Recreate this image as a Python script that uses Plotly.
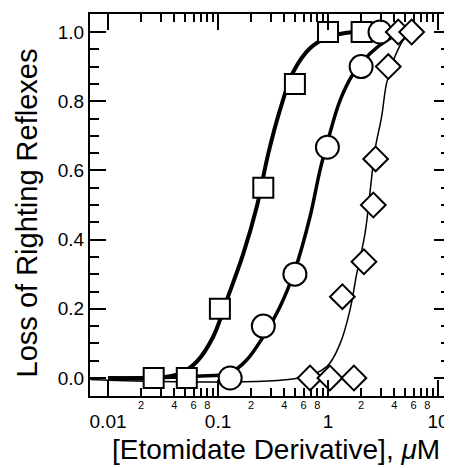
import plotly.graph_objects as go

# measured points
sq_x = [0.026, 0.052, 0.104, 0.258, 0.50, 1.0, 2.02]
sq_y = [0.0, 0.0, 0.20, 0.55, 0.85, 1.0, 1.0]

ci_x = [0.129, 0.258, 0.50, 0.987, 2.0, 2.97]
ci_y = [0.0, 0.15, 0.30, 0.667, 0.90, 1.0]

di_x = [0.686, 1.04, 1.72, 1.35, 2.12, 2.58, 2.71, 3.53, 4.35, 5.76]
di_y = [0.0, 0.0, 0.0, 0.235, 0.336, 0.50, 0.633, 0.90, 1.0, 1.0]

# fitted curves
sq_fit_x = [0.01, 0.026, 0.045, 0.064, 0.0906, 0.12, 0.17, 0.225, 0.287, 0.366, 0.484, 0.686, 1.0, 1.48, 2.0]
sq_fit_y = [0.0, 0.0, 0.013, 0.047, 0.12, 0.225, 0.36, 0.495, 0.65, 0.775, 0.885, 0.953, 0.985, 0.998, 1.0]

ci_fit_x = [0.01, 0.064, 0.129, 0.182, 0.258, 0.366, 0.50, 0.686, 0.846, 1.0, 1.29, 1.70, 2.41, 3.66, 4.5]
ci_fit_y = [0.0, 0.005, 0.015, 0.052, 0.12, 0.206, 0.312, 0.466, 0.601, 0.688, 0.803, 0.88, 0.938, 0.982, 0.995]

di_fit_x = [0.0069, 0.54, 0.973, 1.29, 1.585, 1.82, 2.17, 2.44, 2.67, 3.07, 3.41, 4.06, 4.84, 5.76]
di_fit_y = [-0.004, 0.0, 0.033, 0.10, 0.197, 0.30, 0.418, 0.553, 0.659, 0.755, 0.852, 0.929, 0.977, 1.0]

major_x = [0.01, 0.1, 1, 10]
major_txt = ["0.01", "0.1", "1", "10"]
minor_x = [m * d for d in [0.01, 0.1, 1] for m in range(2, 10)]
minor_lbl_x = [m * d for d in [0.01, 0.1, 1] for m in [2, 4, 6, 8]]
minor_lbl_txt = [str(m) for d in [0.01, 0.1, 1] for m in [2, 4, 6, 8]]

y_vals = [0, 0.2, 0.4, 0.6, 0.8, 1.0]
y_txt = ["0.0", "0.2", "0.4", "0.6", "0.8", "1.0"]

font = "Liberation Sans, Arial, Helvetica, sans-serif"
xr = [-2.164, 1.109]

fig = go.Figure()
fig.add_trace(go.Scatter(x=di_fit_x, y=di_fit_y, mode="lines",
                         line=dict(color="black", width=1.5, shape="spline")))
fig.add_trace(go.Scatter(x=sq_fit_x, y=sq_fit_y, mode="lines",
                         line=dict(color="black", width=4, shape="spline")))
fig.add_trace(go.Scatter(x=ci_fit_x, y=ci_fit_y, mode="lines",
                         line=dict(color="black", width=3.5, shape="spline")))

mk = dict(color="white", line=dict(color="black", width=2))
fig.add_trace(go.Scatter(x=sq_x, y=sq_y, mode="markers",
                         marker=dict(symbol="square", size=20, **mk)))
fig.add_trace(go.Scatter(x=ci_x, y=ci_y, mode="markers",
                         marker=dict(symbol="circle", size=23, **mk)))
fig.add_trace(go.Scatter(x=di_x, y=di_y, mode="markers",
                         marker=dict(symbol="diamond", size=19, **mk)))

# invisible trace on second axis to carry the small 2 4 6 8 labels
fig.add_trace(go.Scatter(x=[0.01], y=[0], xaxis="x2", mode="markers",
                         marker=dict(opacity=0), hoverinfo="skip"))

# page body has an 8px margin, so the figure is 8px smaller than the window
fig.update_layout(
    width=444, height=460,
    margin=dict(l=82, r=2, t=6, b=72),
    paper_bgcolor="white", plot_bgcolor="white",
    showlegend=False,
    font=dict(family=font, color="black"),
    xaxis=dict(
        type="log", range=xr, automargin=False,
        showgrid=False, zeroline=False,
        showline=True, linecolor="black", linewidth=2, mirror="ticks",
        ticks="inside", ticklen=16, tickwidth=2, tickcolor="black",
        tickvals=major_x, ticktext=major_txt,
        tickfont=dict(size=19), ticklabelstandoff=7,
        minor=dict(tickvals=minor_x, ticks="inside", ticklen=8, tickwidth=2,
                   tickcolor="black", showgrid=False),
    ),
    xaxis2=dict(
        type="log", range=xr, overlaying="x", side="bottom", automargin=False,
        showgrid=False, zeroline=False, showline=False, ticks="",
        tickvals=minor_lbl_x, ticktext=minor_lbl_txt,
        tickfont=dict(size=11), ticklabelstandoff=1,
    ),
    yaxis=dict(
        range=[-0.052, 1.052], automargin=False,
        showgrid=False, zeroline=False,
        showline=True, linecolor="black", linewidth=2, mirror="ticks",
        ticks="inside", ticklen=16, tickwidth=2, tickcolor="black",
        tickvals=y_vals, ticktext=y_txt,
        tickfont=dict(size=19),
        minor=dict(dtick=0.05, tick0=0, ticks="inside", ticklen=9, tickwidth=2,
                   tickcolor="black", showgrid=False),
    ),
    annotations=[
        dict(text="Loss of Righting Reflexes", textangle=-90,
             xref="paper", yref="paper", x=-0.175, y=0.478,
             xanchor="center", yanchor="middle", showarrow=False,
             font=dict(size=29)),
        dict(text="[Etomidate Derivative], <i>μ</i>M",
             xref="paper", yref="paper", x=0.518, y=-0.139,
             xanchor="center", yanchor="middle", showarrow=False,
             font=dict(size=28)),
    ],
)

fig.write_html("out.html")
